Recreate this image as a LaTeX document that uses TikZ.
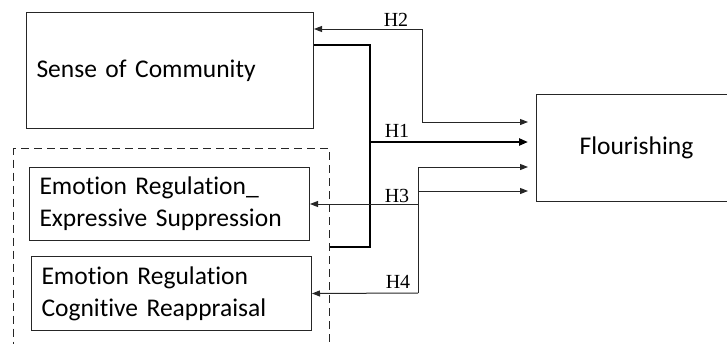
\documentclass[tikz,border=0pt]{standalone}
\usepackage{fontspec}
\setmainfont{Carlito}[Ligatures=NoCommon]
\newfontfamily\hypfont{Liberation Serif}
\usepackage{tikz}
\usetikzlibrary{arrows.meta,positioning}
\tikzset{
  box/.style = {draw=black!85, line width=1pt, rectangle, align=left, inner xsep=10pt, font=\fontsize{25.5}{32}\selectfont},
  grp/.style = {draw=black!85, line width=1pt, dash pattern=on 8pt off 5pt},
  hyp/.style = {font=\hypfont\fontsize{20}{20}\selectfont, inner sep=0pt, anchor=base},
  link/.style = {line width=1pt, draw=black!85, -{Triangle[length=8pt,width=6pt]}, shorten >=8pt},
  path1/.style = {line width=2.2pt, draw=black},
  link1/.style = {line width=2.2pt, draw=black, -{Triangle[length=9pt,width=7pt]}, shorten >=8pt}
}

\begin{document}
\begin{tikzpicture}[x=1pt,y=-1pt]
  \useasboundingbox (0,0) rectangle (727,343);
  % boxes
  \node[box, anchor=north west, text width=267pt, minimum height=116pt] (sense) at (26,12) {Sense of Community};
  \node[grp, anchor=north west, minimum width=316pt, minimum height=215pt] (grp) at (13,148) {};
  \node[box, anchor=north west, text width=260pt, minimum height=73pt] (expr) at (29,167) {Emotion Regulation\_\\Expressive Suppression};
  \node[box, anchor=north west, text width=260pt, minimum height=74pt] (cogn) at (31,256) {Emotion Regulation\\Cognitive Reappraisal};
  \node[box, anchor=north west, align=center, minimum width=200pt, minimum height=107pt] (flour) at (536,94) {Flourishing};
  % bend points
  \coordinate (b1) at (370,142);
  \coordinate (b1d) at (370,247);
  \coordinate (b2) at (422,29);
  \coordinate (b3) at (418,167);
  \coordinate (b3b) at (418,191);
  \coordinate (b4) at (418,293);
  % H1
  \draw[path1] ([yshift=-33pt]sense.north east) -| (b1) -- (b1d) -- (b1d -| grp.east);
  \draw[link1] (b1) -- (b1 -| flour.west);
  % H2
  \draw[link, {Triangle[length=8pt,width=6pt]}-{Triangle[length=8pt,width=6pt]}, shorten <=8pt, shorten >=0pt]
    ([yshift=-28pt]flour.north west) -| (b2) -- (b2 -| sense.east);
  % H3, H4
  \draw[line width=1pt, black!85] (b3) -- (b4);
  \draw[link] (b3) -- (b3 -| flour.west);
  \draw[link] (b3b) -- (b3b -| flour.west);
  \draw[link, shorten >=0pt] (b3 |- expr.east) -- (expr.east);
  \draw[link, shorten >=0pt] (b4) -- (cogn.east);
  % labels
  \node[hyp] (l2) at (396,26) {H2};
  \node[hyp] (l1) at (397,137) {H1};
  \node[hyp] (l3) at (397,202) {H3};
  \node[hyp] (l4) at (398,288) {H4};
\end{tikzpicture}
\end{document}
